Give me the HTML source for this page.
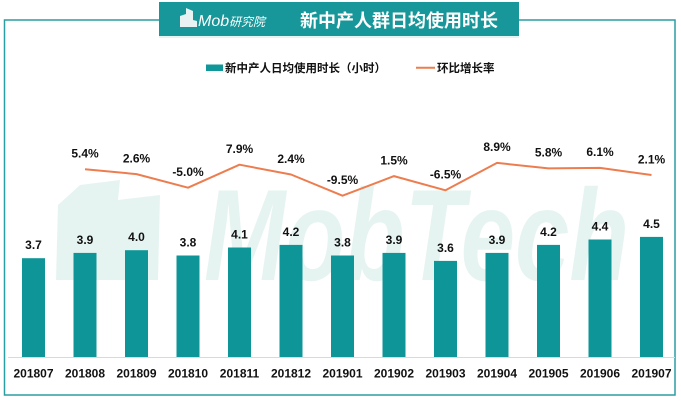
<!DOCTYPE html>
<html>
<head>
<meta charset="utf-8">
<style>
html,body{margin:0;padding:0;background:#fff;}
body{width:681px;height:401px;overflow:hidden;}
svg{display:block;}
text{font-family:"Liberation Sans","Noto Sans CJK SC",sans-serif;}
</style>
</head>
<body>
<svg width="681" height="401" viewBox="0 0 681 401" xmlns="http://www.w3.org/2000/svg">
  <rect x="0" y="0" width="681" height="401" fill="#fff"/>
  <!-- frame -->
  <rect x="4.5" y="20" width="670.5" height="375" fill="none" stroke="#2a9ea1" stroke-width="1.5"/>

  <!-- watermark -->
  <g fill="#e6f4f1">
    <polygon points="58,205 80,185 120,180 118,200 160,195 158,280 56,280"/>
    <text x="204" y="280" font-size="130" font-weight="bold" font-style="italic" fill="#e6f4f1" textLength="425" lengthAdjust="spacingAndGlyphs" font-family="Liberation Sans, sans-serif">MobTech</text>
  </g>

  <!-- header box -->
  <rect x="159" y="2" width="360" height="34" fill="#17979a"/>
  <rect x="159" y="36" width="360" height="2" fill="#e6f3f3"/>
  <!-- logo -->
  <g fill="#e8f2f2">
    <polygon points="180,27 180,16 186,14 186,27"/>
    <polygon points="186,27 186,8 193,11 193,27"/>
    <polygon points="193,27 193,20 197,21 197,27"/>
  </g>
  <text x="198" y="26" font-size="16" font-style="italic" fill="#fff" font-family="Liberation Sans, sans-serif">Mob</text>
  <text x="229" y="26" font-size="12" font-style="italic" fill="#fff" font-family="Liberation Sans, 'Noto Sans CJK SC', sans-serif">研究院</text>
  <text x="300" y="27" font-size="18" font-weight="bold" fill="#fff">新中产人群日均使用时长</text>

  <!-- legend -->
  <rect x="206" y="64.5" width="17" height="6.5" fill="#10979a"/>
  <text x="225" y="71.8" font-size="11.5" font-weight="bold" fill="#111">新中产人日均使用时长（小时）</text>
  <line x1="416" y1="67.8" x2="435" y2="67.8" stroke="#ed7d4f" stroke-width="2"/>
  <text x="437" y="71.8" font-size="11.5" font-weight="bold" fill="#111">环比增长率</text>

  <!-- axis -->
  <line x1="8" y1="357.5" x2="675" y2="357.5" stroke="#d9d9d9" stroke-width="1"/>

  <!-- bars -->
  <g fill="#0e9597">
    <rect x="22" y="258.2" width="23" height="98.8"/>
    <rect x="73.5" y="252.9" width="23" height="104.1"/>
    <rect x="125" y="250.2" width="23" height="106.8"/>
    <rect x="176.5" y="255.5" width="23" height="101.5"/>
    <rect x="228" y="247.5" width="23" height="109.5"/>
    <rect x="279.5" y="244.9" width="23" height="112.1"/>
    <rect x="331" y="255.5" width="23" height="101.5"/>
    <rect x="382.5" y="252.9" width="23" height="104.1"/>
    <rect x="434" y="260.9" width="23" height="96.1"/>
    <rect x="485.5" y="252.9" width="23" height="104.1"/>
    <rect x="537" y="244.9" width="23" height="112.1"/>
    <rect x="588.5" y="239.5" width="23" height="117.5"/>
    <rect x="640" y="236.9" width="23" height="120.1"/>
  </g>

  <!-- bar labels -->
  <g font-size="12" font-weight="bold" fill="#111" text-anchor="middle">
    <text x="33.5" y="249.2">3.7</text>
    <text x="85" y="243.9">3.9</text>
    <text x="136.5" y="241.2">4.0</text>
    <text x="188" y="246.5">3.8</text>
    <text x="239.5" y="238.5">4.1</text>
    <text x="291" y="235.9">4.2</text>
    <text x="342.5" y="246.5">3.8</text>
    <text x="394" y="243.9">3.9</text>
    <text x="445.5" y="251.9">3.6</text>
    <text x="497" y="243.9">3.9</text>
    <text x="548.5" y="235.9">4.2</text>
    <text x="600" y="230.5">4.4</text>
    <text x="651.5" y="227.9">4.5</text>
  </g>

  <!-- line -->
  <polyline fill="none" stroke="#ed7d4f" stroke-width="2" stroke-linejoin="round"
    points="85,169.2 136.5,174.1 188,187.7 239.5,164.7 291,174.5 342.5,195.7 394,176.1 445.5,190.3 497,162.9 548.5,168.4 600,167.9 651.5,175"/>

  <!-- line labels -->
  <g font-size="12" font-weight="bold" fill="#111" text-anchor="middle">
    <text x="85" y="157.5">5.4%</text>
    <text x="136.5" y="162.4">2.6%</text>
    <text x="188" y="176">-5.0%</text>
    <text x="239.5" y="153">7.9%</text>
    <text x="291" y="162.8">2.4%</text>
    <text x="342.5" y="184">-9.5%</text>
    <text x="394" y="164.4">1.5%</text>
    <text x="445.5" y="178.6">-6.5%</text>
    <text x="497" y="151.2">8.9%</text>
    <text x="548.5" y="156.7">5.8%</text>
    <text x="600" y="156.2">6.1%</text>
    <text x="651.5" y="163.3">2.1%</text>
  </g>

  <!-- x labels -->
  <g font-size="12" font-weight="bold" fill="#111" text-anchor="middle">
    <text x="33.5" y="377.5">201807</text>
    <text x="85" y="377.5">201808</text>
    <text x="136.5" y="377.5">201809</text>
    <text x="188" y="377.5">201810</text>
    <text x="239.5" y="377.5">201811</text>
    <text x="291" y="377.5">201812</text>
    <text x="342.5" y="377.5">201901</text>
    <text x="394" y="377.5">201902</text>
    <text x="445.5" y="377.5">201903</text>
    <text x="497" y="377.5">201904</text>
    <text x="548.5" y="377.5">201905</text>
    <text x="600" y="377.5">201906</text>
    <text x="651.5" y="377.5">201907</text>
  </g>
</svg>
</body>
</html>
